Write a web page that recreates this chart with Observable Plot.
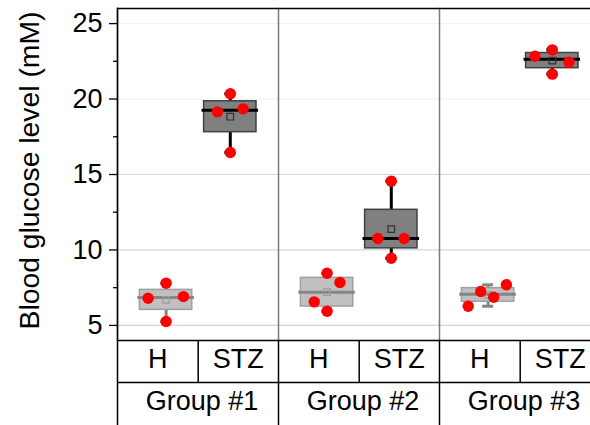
<!DOCTYPE html>
<html><head><meta charset="utf-8">
<script src="https://cdn.jsdelivr.net/npm/d3@7"></script>
<script src="https://cdn.jsdelivr.net/npm/@observablehq/plot@0.6"></script>
<style>body{margin:0;background:#fff}</style>
</head><body>
<script>
// ---- data ----
const groups = ["Group #1", "Group #2", "Group #3"];
const conditions = ["H", "STZ"];
// blood glucose (mM) of each animal, per group
const hValues = [[7.80, 6.80, 6.91, 5.26], [8.46, 7.84, 6.56, 5.94], [6.27, 7.25, 6.87, 7.69]];
const stzValues = [[20.35, 19.15, 19.35, 16.46], [14.56, 10.76, 10.76, 9.45], [22.84, 23.26, 22.44, 21.65]];
// horizontal jitter of each point, in category units
const hJitter = [[0, -0.28, 0.27, 0], [0, 0.2, -0.2, 0], [-0.31, -0.115, 0.087, 0.285]];
const stzJitter = [[0, -0.2, 0.2, 0], [0, -0.21, 0.2, 0], [-0.27, 0, 0.26, 0]];
const yTicks = [5, 10, 15, 20, 25];
const yMinorTicks = [7.5, 12.5, 17.5, 22.5];
const yTitle = "Blood glucose level (mM)";

// ---- tables ----
const points = [];
groups.forEach((g, gi) => {
  conditions.forEach((c, ci) => {
    const vals = ci === 0 ? hValues[gi] : stzValues[gi];
    const jit = ci === 0 ? hJitter[gi] : stzJitter[gi];
    vals.forEach((v, k) => points.push({group: g, cond: c, ci, value: v, jitter: jit[k]}));
  });
});
const boxes = d3.flatGroup(points, d => d.group, d => d.cond).map(([group, cond, pts]) => {
  const s = pts.map(d => d.value).sort(d3.ascending);
  const half = Math.floor(s.length / 2);
  return {
    group, cond, ci: conditions.indexOf(cond),
    q1: d3.median(s.slice(0, half)), q3: d3.median(s.slice(s.length - half)),
    med: d3.median(s), mean: d3.mean(s), lo: s[0], hi: s[s.length - 1]
  };
});
const xDomain = [-0.757, 1.751];
const divider = d3.mean(conditions, (c, i) => i);
const cells = groups.flatMap(g => conditions.map((c, ci) => ({
  group: g, cond: c, cx: ci === 0 ? (xDomain[0] + divider) / 2 : (divider + xDomain[1]) / 2
})));

const fillOf = {H: "#c0c0c0", STZ: "#808080"};
const edgeOf = {H: "#a0a0a0", STZ: "#404040"};
const lineOf = {H: "#858585", STZ: "#000000"};
const BW = 0.408, CAP = 0.085, MED = 0.44;
const FS = 27;

const chart = Plot.plot({
  width: 590, height: 425,
  marginTop: 8, marginBottom: 85, marginLeft: 117, marginRight: -10,
  style: {fontFamily: "Arial, 'Liberation Sans', sans-serif", fontSize: FS + "px", color: "black", background: "white"},
  fx: {domain: groups, padding: 0, axis: null, label: null},
  x: {domain: xDomain, axis: null},
  y: {domain: [4, 26]},
  color: {type: "identity"},
  marks: [
    Plot.ruleY([5, 10, 15], {stroke: "#d6d6d6", strokeWidth: 1.2}),
    Plot.ruleY([20, 25], {stroke: "#f2f2f2", strokeWidth: 1.2}),
    Plot.frame({anchor: "left", stroke: "#7a7a7a", strokeWidth: 1.5}),
    // whiskers
    Plot.ruleX(boxes, {fx: "group", x: "ci", y1: "lo", y2: "hi", stroke: d => lineOf[d.cond], strokeWidth: 3}),
    Plot.ruleY(boxes, {fx: "group", y: "lo", x1: d => d.ci - CAP, x2: d => d.ci + CAP, stroke: d => lineOf[d.cond], strokeWidth: 3}),
    Plot.ruleY(boxes, {fx: "group", y: "hi", x1: d => d.ci - CAP, x2: d => d.ci + CAP, stroke: d => lineOf[d.cond], strokeWidth: 3}),
    // boxes
    Plot.rect(boxes, {fx: "group", x1: d => d.ci - BW, x2: d => d.ci + BW, y1: "q1", y2: "q3",
      fill: d => fillOf[d.cond], stroke: d => edgeOf[d.cond], strokeWidth: 1.5}),
    Plot.ruleY(boxes, {fx: "group", y: "med", x1: d => d.ci - MED, x2: d => d.ci + MED, stroke: d => lineOf[d.cond], strokeWidth: 3}),
    Plot.dot(boxes, {fx: "group", x: "ci", y: "mean", symbol: "square", r: 3.7, fill: "none",
      stroke: d => d.cond === "H" ? "#9a9a9a" : "#303030", strokeWidth: 1.2}),
    // points
    Plot.dot(points, {fx: "group", x: d => d.ci + d.jitter, y: "value", r: 5.7, fill: "#ff0000"}),
    // axes
    Plot.axisY(yTicks, {tickSize: 8, tickPadding: 7, fontSize: FS, strokeWidth: 1.3,
      label: yTitle, labelAnchor: "center", labelOffset: 98, labelArrow: "none"}),
    Plot.axisY(yMinorTicks, {tickSize: 4, tickFormat: () => "", label: null, strokeWidth: 1.3}),
    // borders and table
    Plot.ruleY([26], {stroke: "black", strokeWidth: 1.5}),
    Plot.ruleY([4], {stroke: "black", strokeWidth: 1.5}),
    Plot.ruleY([4], {stroke: "black", strokeWidth: 1.5, dy: 42}),
    Plot.frame({anchor: "left", stroke: "black", strokeWidth: 1.5, facetAnchor: "left"}),
    Plot.frame({anchor: "left", stroke: "black", strokeWidth: 1.5, insetTop: 332, insetBottom: -85}),
    Plot.ruleX([divider], {stroke: "black", strokeWidth: 1.5, insetTop: 332, insetBottom: -42}),
    Plot.text(cells, {fx: "group", x: "cx", text: "cond", frameAnchor: "bottom", dy: 27, fontSize: FS}),
    Plot.text(groups, {fx: d => d, text: d => d, frameAnchor: "bottom", dy: 69, dx: 4, fontSize: FS})
  ]
});
document.body.appendChild(chart);
// stretch the rotated axis title along its length, as in the reference
const title = d3.select(chart).select('[aria-label="y-axis label"] text');
if (!title.empty()) {
  title.attr("textLength", 318).attr("lengthAdjust", "spacingAndGlyphs").attr("dx", 4);
}
</script>
</body></html>
